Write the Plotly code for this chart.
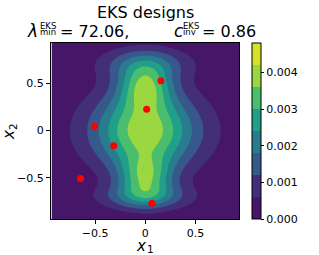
import numpy as np
import plotly.graph_objects as go
from plotly.colors import sample_colorscale

# ---- density model: Gaussian bumps (centre, widths, weight)
comp_x = [0.0, 0.0, 0.0, 0.0, 0.0, 0.0]
comp_y = [0.0, 0.0, 0.473, -0.50, 0.714, -0.70]
comp_sx = [0.34, 0.65, 0.18, 0.18, 0.33, 0.33]
comp_sy = [0.30, 0.315, 0.168, 0.168, 0.126, 0.10]
comp_w = [0.0034, 0.0006, 0.0026, 0.0026, 0.0015, 0.0016]

# ---- design points (red dots)
design_x = [0.156, 0.014, -0.506, -0.314, -0.645, 0.067]
design_y = [0.526, 0.225, 0.049, -0.161, -0.505, -0.768]

# ---- contour levels / colourbar ticks
level_start, level_end, level_step = 0.0006, 0.0048, 0.0006
cbar_ticks = [0.000, 0.001, 0.002, 0.003, 0.004]
domain = [-0.935, 0.935]

grid = np.linspace(domain[0], domain[1], 241)
X, Y = np.meshgrid(grid, grid)
Z = np.zeros_like(X)
for cx, cy, sx, sy, w in zip(comp_x, comp_y, comp_sx, comp_sy, comp_w):
    Z += w * np.exp(-((X - cx) ** 2 / (2 * sx ** 2) + (Y - cy) ** 2 / (2 * sy ** 2)))

nb = 8
cols = sample_colorscale("Viridis", [(k + 0.5) / nb for k in range(nb)])
cscale = [[k / nb, cols[k]] for k in range(nb)] + [[1.0, cols[-1]]]

FONT = "DejaVu Sans"
fig = go.Figure()
fig.add_trace(go.Contour(
    x=grid, y=grid, z=Z, zmin=0, zmax=level_end,
    autocontour=False,
    contours=dict(start=level_start, end=level_end, size=level_step,
                  coloring="fill", showlines=False),
    line=dict(width=0), colorscale=cscale, hoverinfo="skip",
    colorbar=dict(x=1.069, xanchor="left", xpad=0, ypad=0, y=0.5, yanchor="middle",
                  len=1.0, thickness=9, outlinewidth=1, outlinecolor="black",
                  tickvals=cbar_ticks, tickformat=".3f", ticks="outside",
                  ticklen=3, tickcolor="black",
                  tickfont=dict(family=FONT, size=11, color="black")),
))
fig.add_trace(go.Scatter(x=design_x, y=design_y, mode="markers",
                         marker=dict(color="red", size=7), hoverinfo="skip",
                         showlegend=False))

L, R, T, B = 51, 80, 43, 36
W, H = 319, 255
pw, ph = W - L - R, H - T - B


def px(xp):
    return (xp - L) / pw


def py(yp):
    return (H - B - yp) / ph


ann = []


def add(text, xp, yp, size, anchor="left", angle=0, yanchor="middle"):
    ann.append(dict(text=text, x=px(xp), y=py(yp), xref="paper", yref="paper",
                    xanchor=anchor, yanchor=yanchor, showarrow=False, textangle=angle,
                    borderpad=0, borderwidth=0,
                    font=dict(family=FONT, size=size, color="black")))


add("EKS designs", 145, 12, 16, "center")
add("<i>λ</i>", 27, 31, 17)
add("EKS", 39.5, 31.5, 8.5, yanchor="bottom")
add("min", 39.5, 26.5, 8.5, yanchor="top")
add("= 72.06,", 60, 31, 16)
add("<i>c</i>", 174, 31, 17)
add("EKS", 182.5, 31.5, 8.5, yanchor="bottom")
add("inv", 182.5, 26.5, 8.5, yanchor="top")
add("= 0.86", 201.5, 31, 16)
add("<i>x</i>", 136, 254.5, 15, yanchor="bottom")
add("1", 146.5, 255, 10.5, yanchor="bottom")
add("<i>x</i><sub>2</sub>", 9, 132, 15, "center", -90)

axis_common = dict(showgrid=False, zeroline=False, showline=True, mirror=True,
                   linecolor="black", linewidth=1, ticks="outside", ticklen=4,
                   tickcolor="black", automargin=False,
                   tickfont=dict(family=FONT, size=11, color="black"))
fig.update_layout(
    template="none",
    width=W, height=H, margin=dict(l=L, r=R, t=T, b=B, pad=0, autoexpand=False),
    paper_bgcolor="white", plot_bgcolor="white", showlegend=False,
    annotations=ann,
    xaxis=dict(range=[-0.94, 0.935], tickvals=[-0.5, 0.0, 0.5], **axis_common),
    yaxis=dict(range=[-0.933, 0.925], tickvals=[-0.5, 0.0, 0.5], **axis_common),
)
fig.write_html("out.html", config={"displayModeBar": False},
               post_script="document.body.style.margin='0';document.body.style.padding='0';")
